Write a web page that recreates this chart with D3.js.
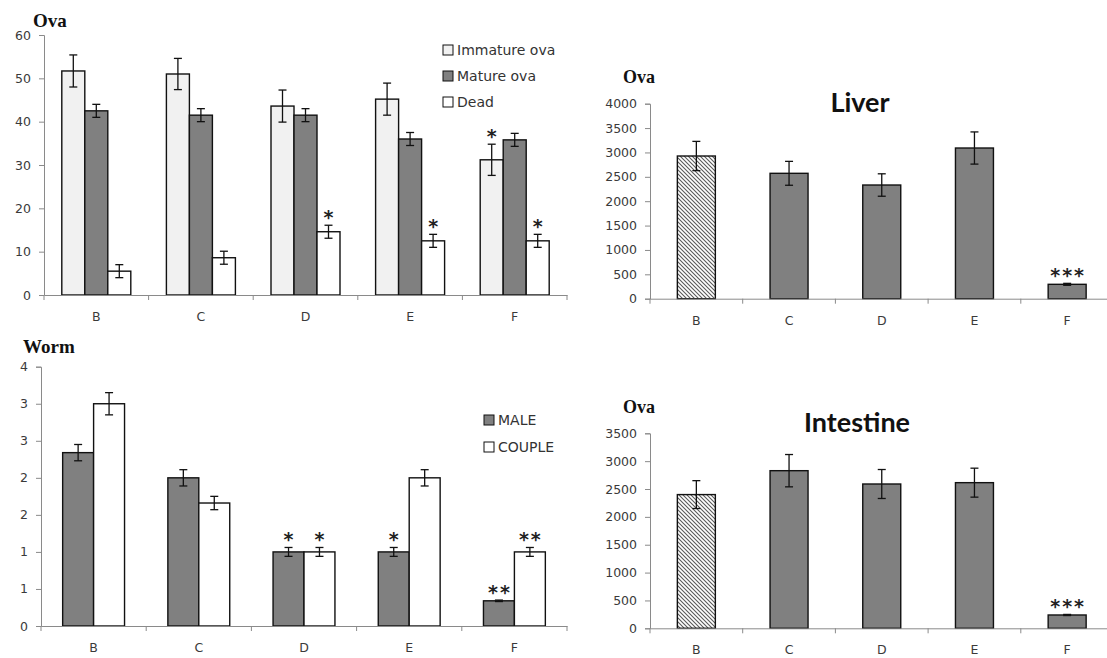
<!DOCTYPE html>
<html>
<head>
<meta charset="utf-8">
<script src="https://cdn.jsdelivr.net/npm/d3@7/dist/d3.min.js"></script>
<style>
  html, body { margin: 0; padding: 0; background: #fff; }
  svg { display: block; }
  .tick text { font-family: "DejaVu Sans", Verdana, sans-serif; fill: #3a3a3a; }
</style>
</head>
<body>
<svg id="chart" width="1107" height="658"></svg>
<script>
// ---------- DATA ----------
const categories = ["B", "C", "D", "E", "F"];

// Panel 1: Ova (grouped)
const ovaSeries = ["Immature ova", "Mature ova", "Dead"];
const ovaImmature = [51.7, 51.0, 43.6, 45.2, 31.2];
const ovaImmatureErr = [3.7, 3.6, 3.7, 3.7, 3.6];
const ovaMature = [42.5, 41.5, 41.5, 36.0, 35.8];
const ovaMatureErr = [1.5, 1.5, 1.5, 1.5, 1.5];
const ovaDead = [5.5, 8.6, 14.6, 12.5, 12.5];
const ovaDeadErr = [1.5, 1.5, 1.5, 1.5, 1.5];
const ovaImmatureStars = ["", "", "", "", "*"];
const ovaMatureStars = ["", "", "", "", ""];
const ovaDeadStars = ["", "", "*", "*", "*"];
const ovaTicks = [0, 10, 20, 30, 40, 50, 60];

// Panel 2: Worm (grouped)
const wormSeries = ["MALE", "COUPLE"];
const wormMale = [2.34, 2.0, 1.0, 1.0, 0.34];
const wormMaleErr = [0.11, 0.11, 0.06, 0.06, 0.01];
const wormCouple = [3.0, 1.66, 1.0, 2.0, 1.0];
const wormCoupleErr = [0.15, 0.09, 0.06, 0.11, 0.06];
const wormMaleStars = ["", "", "*", "*", "**"];
const wormCoupleStars = ["", "", "*", "", "**"];
const wormTicks = [0, 0.5, 1, 1.5, 2, 2.5, 3, 3.5];
const wormTickLabels = ["0", "1", "1", "2", "2", "3", "3", "4"];

// Panel 3: Liver
const liverOva = [2927, 2572, 2332, 3091, 295];
const liverErr = [300, 245, 230, 330, 20];
const liverStars = ["", "", "", "", "***"];
const liverTicks = [0, 500, 1000, 1500, 2000, 2500, 3000, 3500, 4000];

// Panel 4: Intestine
const intestineOva = [2400, 2829, 2590, 2614, 239];
const intestineErr = [250, 290, 260, 260, 10];
const intestineStars = ["", "", "", "", "***"];
const intestineTicks = [0, 500, 1000, 1500, 2000, 2500, 3000, 3500];

// ---------- STYLE ----------
const C_LIGHT = "#f1f1f1", C_GRAY = "#808080", C_WHITE = "#ffffff";
const AXIS_COLOR = "#8a8a8a";
const TICK_FONT = 12.5;

const svg = d3.select("#chart");
const defs = svg.append("defs");
const pat = defs.append("pattern")
  .attr("id", "hatch").attr("patternUnits", "userSpaceOnUse")
  .attr("width", 4).attr("height", 4);
pat.append("rect").attr("width", 4).attr("height", 4).attr("fill", "#fff");
pat.append("path").attr("d", "M0,0 L4,4 M-1,3 L1,5 M3,-1 L5,1")
  .attr("stroke", "#5a5a5a").attr("stroke-width", 1.1);

function drawPanel(cfg) {
  const g = svg.append("g");
  const x = d3.scaleBand().domain(categories).range(cfg.xRange).paddingInner(0).paddingOuter(0);
  const inner = d3.scaleBand().domain(cfg.series.map(s => s.name))
    .range([0, x.bandwidth()]).paddingInner(0).paddingOuter(cfg.outerPad);
  const y = d3.scaleLinear().domain(cfg.yDomain).range(cfg.yRange);

  // bars
  cfg.series.forEach(s => {
    const sg = g.append("g");
    const rows = categories.map((c, i) => ({ c, i, v: s.values[i], e: s.errs[i], star: s.stars[i] }));
    sg.selectAll("rect").data(rows).join("rect")
      .attr("x", d => x(d.c) + inner(s.name))
      .attr("y", d => y(d.v))
      .attr("width", inner.bandwidth())
      .attr("height", d => y(0) - y(d.v))
      .attr("fill", d => typeof s.fill === "function" ? s.fill(d.i) : s.fill)
      .attr("stroke", "#111").attr("stroke-width", 1.4);
    // error bars
    const cx = d => x(d.c) + inner(s.name) + inner.bandwidth() / 2;
    const eg = sg.selectAll("g.err").data(rows).join("g").attr("class", "err")
      .attr("stroke", "#111").attr("stroke-width", 1.3);
    eg.append("line").attr("x1", cx).attr("x2", cx)
      .attr("y1", d => y(d.v + d.e)).attr("y2", d => y(d.v - d.e));
    eg.append("line").attr("x1", d => cx(d) - 4).attr("x2", d => cx(d) + 4)
      .attr("y1", d => y(d.v + d.e)).attr("y2", d => y(d.v + d.e));
    eg.append("line").attr("x1", d => cx(d) - 4).attr("x2", d => cx(d) + 4)
      .attr("y1", d => y(d.v - d.e)).attr("y2", d => y(d.v - d.e));
    // stars
    sg.selectAll("text.star").data(rows.filter(d => d.star)).join("text")
      .attr("class", "star")
      .attr("x", d => cx(d) + (d.star.length > 1 ? 1 : 0))
      .attr("y", d => y(d.v + d.e) - 1)
      .attr("text-anchor", "middle")
      .attr("font-family", "DejaVu Sans, sans-serif")
      .attr("font-weight", "bold")
      .attr("font-size", 19).attr("letter-spacing", d => d.star.length > 1 ? 2 : 0)
      .attr("fill", "#222")
      .text(d => d.star);
  });

  // y axis
  const ya = d3.axisLeft(y).tickValues(cfg.ticks).tickSize(5).tickPadding(8)
    .tickFormat((d, i) => cfg.tickLabels ? cfg.tickLabels[i] : d);
  const yg = g.append("g").attr("transform", `translate(${cfg.xRange[0]},0)`).call(ya);
  yg.select(".domain").attr("stroke", AXIS_COLOR);
  yg.selectAll(".tick line").attr("stroke", AXIS_COLOR);
  yg.selectAll(".tick text").attr("font-size", TICK_FONT);

  // x axis
  const xa = d3.axisBottom(x).tickSize(0).tickPadding(17);
  const xg = g.append("g").attr("transform", `translate(0,${y(0)})`).call(xa);
  xg.select(".domain").attr("stroke", AXIS_COLOR);
  xg.selectAll(".tick text").attr("font-size", 12.5).attr("fill", "#333");
  const bounds = categories.map(c => x(c)).concat([x.range()[1]]);
  xg.selectAll("line.bt").data(bounds).join("line").attr("class", "bt")
    .attr("x1", d => d).attr("x2", d => d).attr("y1", 0).attr("y2", 5)
    .attr("stroke", AXIS_COLOR);

  // unit label
  g.append("text").attr("x", cfg.unit.x).attr("y", cfg.unit.y)
    .attr("font-family", "Liberation Serif, Times New Roman, serif")
    .attr("font-weight", "bold").attr("font-size", cfg.unit.size)
    .attr("fill", "#111").text(cfg.unit.text);

  // title
  if (cfg.title) {
    g.append("text").attr("x", cfg.title.x).attr("y", cfg.title.y)
      .attr("text-anchor", "middle")
      .attr("font-family", "Lato, Open Sans, sans-serif")
      .attr("font-weight", "bold").attr("font-size", 27)
      .attr("fill", "#111").text(cfg.title.text);
  }

  // legend
  if (cfg.legend) {
    const lg = g.append("g");
    cfg.series.forEach((s, i) => {
      const cy = cfg.legend.y + i * cfg.legend.dy;
      lg.append("rect").attr("x", cfg.legend.x).attr("y", cy - 5)
        .attr("width", 10).attr("height", 10)
        .attr("fill", s.fill).attr("stroke", "#111").attr("stroke-width", 1);
      lg.append("text").attr("x", cfg.legend.x + 14).attr("y", cy + 5)
        .attr("font-family", "DejaVu Sans, Verdana, sans-serif")
        .attr("font-size", 14).attr("fill", "#333").text(s.name);
    });
  }
}

drawPanel({
  xRange: [44, 567], yDomain: [0, 60], yRange: [295, 35], outerPad: 0.774,
  ticks: ovaTicks,
  series: [
    { name: ovaSeries[0], values: ovaImmature, errs: ovaImmatureErr, stars: ovaImmatureStars, fill: C_LIGHT },
    { name: ovaSeries[1], values: ovaMature, errs: ovaMatureErr, stars: ovaMatureStars, fill: C_GRAY },
    { name: ovaSeries[2], values: ovaDead, errs: ovaDeadErr, stars: ovaDeadStars, fill: C_WHITE }
  ],
  unit: { text: "Ova", x: 33, y: 27, size: 19 },
  legend: { x: 443, y: 50, dy: 26 }
});

drawPanel({
  xRange: [41, 567], yDomain: [0, 3.5], yRange: [626, 366.7], outerPad: 0.7,
  ticks: wormTicks, tickLabels: wormTickLabels,
  series: [
    { name: wormSeries[0], values: wormMale, errs: wormMaleErr, stars: wormMaleStars, fill: C_GRAY },
    { name: wormSeries[1], values: wormCouple, errs: wormCoupleErr, stars: wormCoupleStars, fill: C_WHITE }
  ],
  unit: { text: "Worm", x: 23, y: 353, size: 19 },
  legend: { x: 484, y: 420, dy: 27 }
});

drawPanel({
  xRange: [650, 1113.5], yDomain: [0, 4000], yRange: [298.7, 103.7], outerPad: 0.72,
  ticks: liverTicks,
  series: [
    { name: "Liver", values: liverOva, errs: liverErr, stars: liverStars, fill: i => i === 0 ? "url(#hatch)" : C_GRAY }
  ],
  unit: { text: "Ova", x: 623, y: 82.7, size: 18 },
  title: { text: "Liver", x: 860, y: 111.7 }
});

drawPanel({
  xRange: [650, 1113.5], yDomain: [0, 3500], yRange: [628.3, 433.3], outerPad: 0.72,
  ticks: intestineTicks,
  series: [
    { name: "Intestine", values: intestineOva, errs: intestineErr, stars: intestineStars, fill: i => i === 0 ? "url(#hatch)" : C_GRAY }
  ],
  unit: { text: "Ova", x: 623, y: 412.7, size: 18 },
  title: { text: "Intestine", x: 857, y: 431.7 }
});
</script>
</body>
</html>
